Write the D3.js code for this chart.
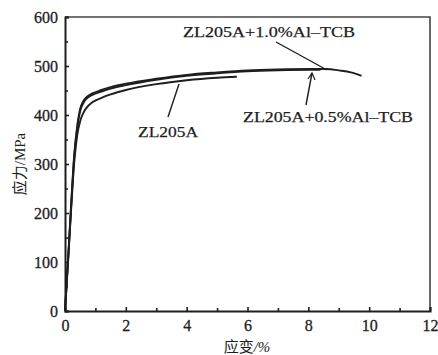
<!DOCTYPE html>
<html><head><meta charset="utf-8">
<script src="https://cdn.jsdelivr.net/npm/d3@7"></script>
<style>body{margin:0;background:#fff}svg{display:block}</style>
</head><body>
<svg id="c" width="438" height="355"></svg>
<script>
const xTicks = [0,2,4,6,8,10,12];
const xMinor = [1,3,5,7,9,11];
const yTicks = [0,100,200,300,400,500,600];
const yMinor = [50,150,250,350,450,550];

const strainA = [0,0.1,0.2,0.3,0.4,0.5,0.6,0.7,0.9,1.2,1.5,2,3,4,5,5.65];
const stressA = [0,100,205,300,358,388,404,414,426,435,442,451,463,471,476,478];

const strain05 = [0,0.1,0.2,0.3,0.4,0.5,0.6,0.7,0.9,1.2,1.5,2,3,4,5,6,7,8,8.4];
const stress05 = [0,103,212,312,372,408,424,433,441,448,454,461,472,480,485,489,491,492,492];

const strain10 = [0,0.1,0.2,0.3,0.4,0.5,0.6,0.7,0.9,1.2,1.5,2,3,4,5,6,7,8,8.6,9,9.4,9.75];
const stress10 = [0,105,215,316,377,413,428,436,444,451,457,464,474,482,487,491,493,494,494,491,487,480];

const seriesNames = ["ZL205A","ZL205A+0.5%Al\u2013TCB","ZL205A+1.0%Al\u2013TCB"];

const svg = d3.select("#c");
const x = d3.scaleLinear().domain([0,12]).range([65,430]);
const y = d3.scaleLinear().domain([0,600]).range([311,17]);
const serif = "'Liberation Serif','DejaVu Serif',serif";
const ink = "#1e1e1e";

svg.append("path").attr("d",`M${x(0)},${y(600)}H${x(12)}V${y(0)}`)
  .attr("fill","none").attr("stroke","#444").attr("stroke-width",1.6);

const xAxis = d3.axisBottom(x).tickValues(xTicks).tickSize(-4).tickPadding(9).tickFormat(d3.format("d"));
const gx = svg.append("g").attr("transform",`translate(0,${y(0)})`).call(xAxis);
const xMinorAxis = d3.axisBottom(x).tickValues(xMinor).tickSize(-3).tickFormat("");
svg.append("g").attr("transform",`translate(0,${y(0)})`).call(xMinorAxis).select(".domain").remove();
const yAxis = d3.axisLeft(y).tickValues(yTicks).tickSize(-4).tickPadding(7).tickFormat(d3.format("d"));
const gy = svg.append("g").attr("transform",`translate(${x(0)},0)`).call(yAxis);
const yMinorAxis = d3.axisLeft(y).tickValues(yMinor).tickSize(-3).tickFormat("");
svg.append("g").attr("transform",`translate(${x(0)},0)`).call(yMinorAxis).select(".domain").remove();

svg.selectAll("g").attr("font-family",serif);
svg.selectAll(".domain").attr("stroke",ink).attr("stroke-width",2);
svg.selectAll(".tick line").attr("stroke",ink).attr("stroke-width",1.6);
svg.selectAll(".tick text").attr("font-family",serif).attr("font-size",16).attr("fill",ink)
  .attr("stroke",ink).attr("stroke-width",0.3);
gx.selectAll(".tick text").attr("dy","0.71em");

const line = d3.line().x(d=>x(d[0])).y(d=>y(d[1])).curve(d3.curveMonotoneX);
const series = [
  d3.zip(strainA,stressA),
  d3.zip(strain05,stress05),
  d3.zip(strain10,stress10)
];
series.forEach(s=>{
  svg.append("path").datum(s).attr("d",line).attr("fill","none")
    .attr("stroke",ink).attr("stroke-width",1.9).attr("stroke-linejoin","round");
});

function label(txt, cx, by, w){
  svg.append("text").attr("x",cx).attr("y",by).attr("text-anchor","middle")
    .attr("font-family",serif).attr("font-size",15.5).attr("fill",ink)
    .attr("stroke",ink).attr("stroke-width",0.25)
    .attr("textLength",w).attr("lengthAdjust","spacingAndGlyphs").text(txt);
}
label(seriesNames[2], 269, 37, 172);
label(seriesNames[1], 328, 122, 170);
label(seriesNames[0], 168, 137, 60);

function lead(x1,y1,x2,y2){
  svg.append("line").attr("x1",x1).attr("y1",y1).attr("x2",x2).attr("y2",y2)
    .attr("stroke",ink).attr("stroke-width",1.4);
}
lead(276,42,327,70);
lead(168,117,179,84);
lead(306,105,312,73);
svg.append("path").attr("d","M308,79 L312,73 L315,80").attr("fill","none").attr("stroke",ink).attr("stroke-width",1.2);

svg.append("text").attr("x",247).attr("y",352).attr("text-anchor","middle")
  .attr("fill",ink).attr("font-size",15)
  .call(t=>{
    t.append("tspan").attr("font-family","'Noto Sans CJK SC'").text("应变");
    t.append("tspan").attr("font-family",serif).attr("font-style","italic").text("/%");
  });
svg.append("text").attr("transform","translate(25,164) rotate(-90)").attr("text-anchor","middle")
  .attr("fill",ink).attr("font-size",15)
  .call(t=>{
    t.append("tspan").attr("font-family","'Noto Sans CJK SC'").text("应力");
    t.append("tspan").attr("font-family",serif).text("/MPa");
  });
</script>
</body></html>
